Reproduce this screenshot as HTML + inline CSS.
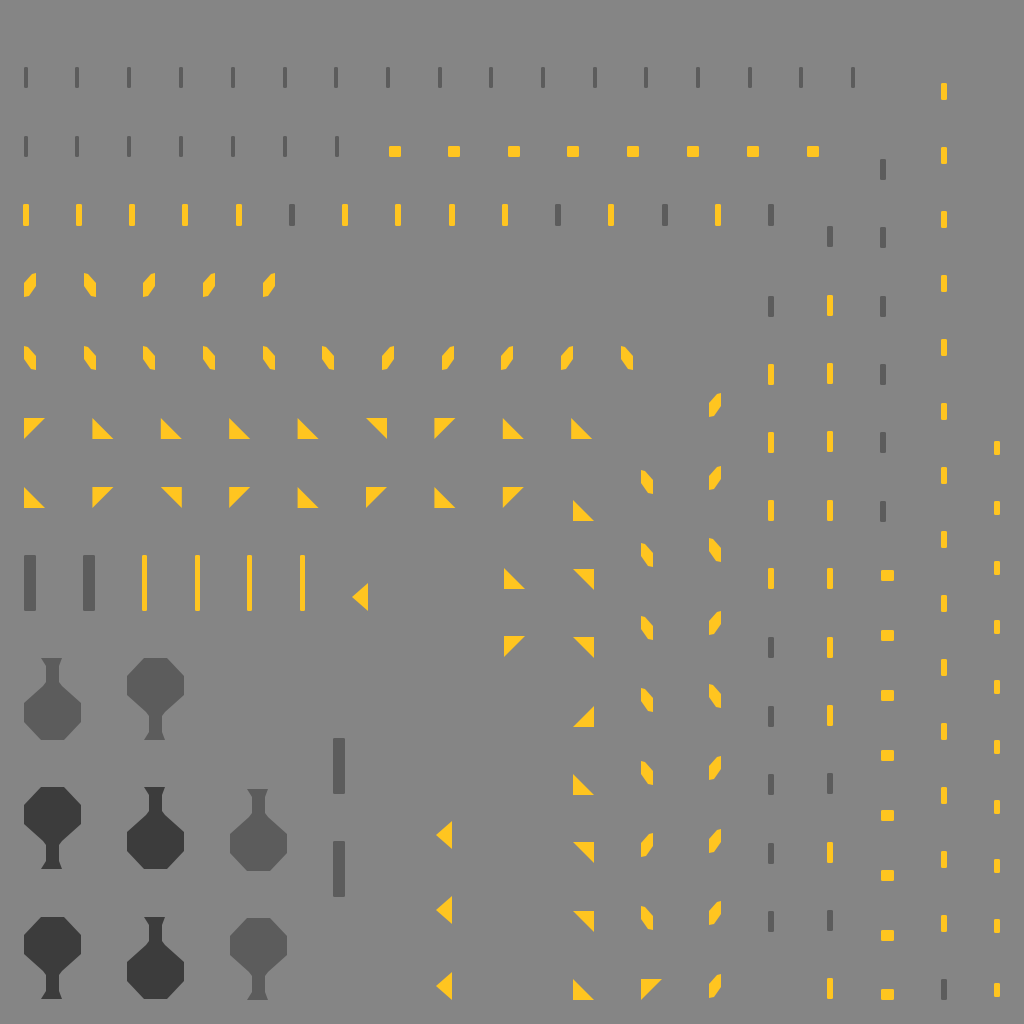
<!DOCTYPE html>
<html><head><meta charset="utf-8"><style>
html,body{margin:0;padding:0;background:#858585;}
svg{display:block}
</style></head><body>
<svg id="s" width="1024" height="1024" viewBox="0 0 1024 1024" xmlns="http://www.w3.org/2000/svg">
<rect width="1024" height="1024" fill="#858585"/>
</svg>
<script>
const G='#5c5c5c',D='#3c3c3c',Y='#ffc520';
const NS='http://www.w3.org/2000/svg';
const svg=document.getElementById('s');
function add(tag,attrs,name){const e=document.createElementNS(NS,tag);for(const k in attrs)e.setAttribute(k,attrs[k]);


svg.appendChild(e);return e;}
function bar(x,y,w,h,c){add('rect',{x:x,y:y,width:w,height:h,rx:1.5,fill:c},'bar-mark');}
function poly(x,y,pts,c,name){add('polygon',{points:pts.map(p=>(x+p[0])+','+(y+p[1])).join(' '),fill:c},name);}
const slashF=[[0,24],[0,10],[8,1],[12,0],[12,13],[5,23]];
const slashB=[[0,0],[4,1],[12,10],[12,24],[7,23],[0,13]];
function slant(x,y,t){poly(x,y,t=='/'?slashF:slashB,Y,'slanted-mark');}
const TRI={tl:[[0,0],[21,0],[0,21]],bl:[[0,0],[0,21],[21,21]],tr:[[0,0],[21,0],[21,21]],br:[[21,0],[21,21],[0,21]]};
function tri(x,y,o){poly(x,y,TRI[o],Y,'triangle-mark');}
function ltri(x,y){poly(x,y,[[16,0],[16,28],[0,14]],Y,'left-triangle-mark');}
const V=[[17,0],[38,0],[35,8],[35,24],[38,28],[57,45],[57,64],[40,82],[17,82],[0,64],[0,45],[19,28],[22,24],[22,8]];
function vase(x,y,inv,c){poly(x,y,inv?V.map(p=>[p[0],82-p[1]]):V,c,inv?'inverted-vase':'upright-vase');}

[26,77,129,181,233,285,336,388,440,491,543,595,646,698,750,801,853].forEach(x=>bar(x-2,67,4,21,G));
[26,77,129,181,233,285,337].forEach(x=>bar(x-2,136,4,21,G));
[395,454,514,573,633,693,753,813].forEach(x=>bar(x-6,146,12,11,Y));
const r3=[[26,Y],[79,Y],[132,Y],[185,Y],[239,Y],[292,G],[345,Y],[398,Y],[452,Y],[505,Y],[558,G],[611,Y],[665,G],[718,Y],[771,G]];
r3.forEach(([x,c])=>bar(x-3,204,6,22,c));
[['/',24],['\\',84],['/',143],['/',203],['/',263]].forEach(([t,x])=>slant(x,273,t));
['\\','\\','\\','\\','\\','\\','/','/','/','/','\\'].forEach((t,i)=>slant([24,84,143,203,263,322,382,442,501,561,621][i],346,t));
[393,466,538,611,684,756,829,901,974].forEach((y,i)=>slant(709,y,i==4||i==2?'\\':'/'));
['\\','\\','\\','\\','\\','/','\\'].forEach((t,i)=>slant(641,[470,543,616,688,761,833,906][i],t));
tri(641,979,'tl');
[[364,Y],[432,Y],[500,Y],[568,Y],[637,G],[706,G],[774,G],[843,G],[911,G],[296,G]].forEach(([y,c])=>bar(768,y,6,21,c));
[[226,G],[295,Y],[363,Y],[431,Y],[500,Y],[568,Y],[637,Y],[705,Y],[773,G],[842,Y],[910,G],[978,Y]].forEach(([y,c])=>bar(827,y,6,21,c));
[[159,G],[227,G],[296,G],[364,G],[432,G],[501,G]].forEach(([y,c])=>bar(880,y,6,21,c));
[570,630,690,750,810,870,930,989].forEach(y=>bar(881,y,13,11,Y));
[83,147,211,275,339,403,467,531,595,659,723,787,851,915].forEach(y=>bar(941,y,6,17,Y));
bar(941,979,6,21,G);
[441,501,561,620,680,740,800,859,919,983].forEach(y=>bar(994,y,6,14,Y));
['tl','bl','bl','bl','bl','tr','tl','bl','bl'].forEach((o,i)=>tri(24+i*68.4,418,o));
['bl','tl','tr','tl','bl','tl','bl','tl'].forEach((o,i)=>tri(24+i*68.4,487,o));
['bl','tr','tr','br','bl','tr','tr','bl'].forEach((o,i)=>tri(573,[500,569,637,706,774,842,911,979][i],o));
tri(504,568,'bl');tri(504,636,'tl');
bar(24,555,12,56,G);bar(83,555,12,56,G);
[142,195,247,300].forEach(x=>bar(x,555,5,56,Y));
ltri(352,583);
[821,896,972].forEach(y=>ltri(436,y));
bar(333,738,12,56,G);bar(333,841,12,56,G);
vase(24,658,false,G);vase(127,658,true,G);
vase(24,787,true,D);vase(127,787,false,D);vase(230,789,false,G);
vase(24,917,true,D);vase(127,917,false,D);vase(230,918,true,G);
</script>
</body></html>
